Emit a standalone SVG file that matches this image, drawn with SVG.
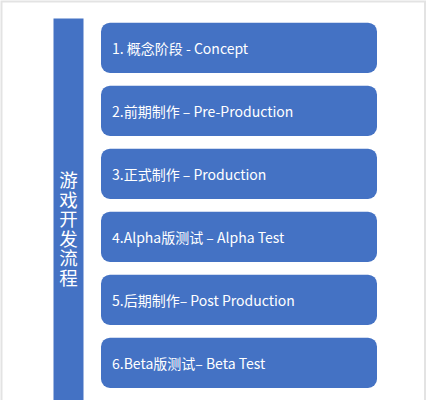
<svg xmlns="http://www.w3.org/2000/svg" width="428" height="400" viewBox="0 0 428 400">
<style>
.box{fill:#4472C4;}
.t{fill:#ffffff;font-family:"Noto Sans CJK SC","Liberation Sans",sans-serif;font-size:14px;dominant-baseline:central;}
.v{fill:#ffffff;font-family:"Noto Sans CJK SC",sans-serif;font-size:18.5px;writing-mode:vertical-rl;letter-spacing:1px;}
</style>
<rect x="0" y="0" width="428" height="400" fill="#ffffff"/>
<rect x="1.5" y="1.5" width="423.5" height="420" fill="none" stroke="#e3e3e3" stroke-width="2"/>
<g id="title">
<rect class="box" x="53.5" y="18.5" width="30" height="390"/>
<text class="v" x="68.5" y="171">游戏开发流程</text>
</g>
<g id="step1"><rect class="box" x="101" y="22.7" width="276" height="50.3" rx="9"/><text class="t" x="112" y="47.8">1. 概念阶段 - Concept</text></g>
<g id="step2"><rect class="box" x="101" y="85.7" width="276" height="50.3" rx="9"/><text class="t" x="112" y="110.8">2.前期制作 – Pre-Production</text></g>
<g id="step3"><rect class="box" x="101" y="148.7" width="276" height="50.3" rx="9"/><text class="t" x="112" y="173.8">3.正式制作 – Production</text></g>
<g id="step4"><rect class="box" x="101" y="211.7" width="276" height="50.3" rx="9"/><text class="t" x="112" y="236.8">4.Alpha版测试 – Alpha Test</text></g>
<g id="step5"><rect class="box" x="101" y="274.7" width="276" height="50.3" rx="9"/><text class="t" x="112" y="299.8">5.后期制作– Post Production</text></g>
<g id="step6"><rect class="box" x="101" y="337.7" width="276" height="50.3" rx="9"/><text class="t" x="112" y="362.8">6.Beta版测试– Beta Test</text></g>
<g id="connectors"></g>
</svg>
